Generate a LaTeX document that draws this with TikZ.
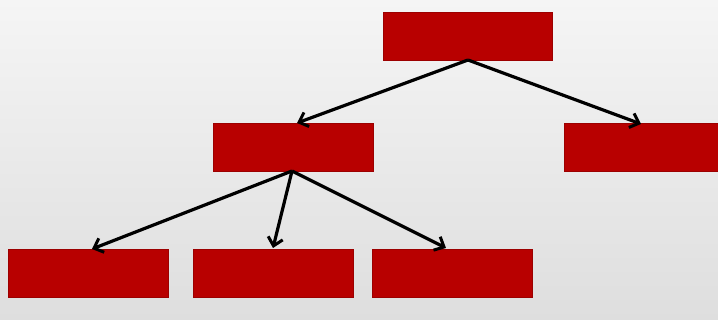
\documentclass[tikz,border=0pt]{standalone}
\usetikzlibrary{arrows.meta}
\definecolor{boxred}{HTML}{B80000}
\definecolor{bgtop}{HTML}{F5F5F5}
\definecolor{bgbot}{HTML}{DEDEDE}
\tikzset{
  box/.style={draw=boxred!85!black, line width=0.6pt, fill=boxred, minimum width=#1, minimum height=48pt, inner sep=0pt, anchor=north west},
  link/.style={draw=black, line width=3.2pt, -{Straight Barb[length=8pt,width=15pt,line width=3pt]}}
}
\begin{document}
\begin{tikzpicture}[x=1pt,y=-1pt]
\shade[top color=bgtop, bottom color=bgbot] (0,0) rectangle (718,320);
\useasboundingbox (0,0) rectangle (718,320);
\node[box=169pt] (top) at (383,12) {};
\node[box=160pt] (ml) at (213,123) {};
\node[box=160pt] (mr) at (564,123) {};
\node[box=160pt] (b1) at (8,249) {};
\node[box=160pt] (b2) at (193,249) {};
\node[box=160pt] (b3) at (372,249) {};
\coordinate (ta) at (468,60);
\coordinate (ma) at (292,171);
\draw[link] (ta) -- (297,123);
\draw[link] (ta) -- (641,124);
\draw[link] (ma) -- (92,249);
\draw[link] (ma) -- (273,248);
\draw[link] (ma) -- (446,248);
\end{tikzpicture}
\end{document}
